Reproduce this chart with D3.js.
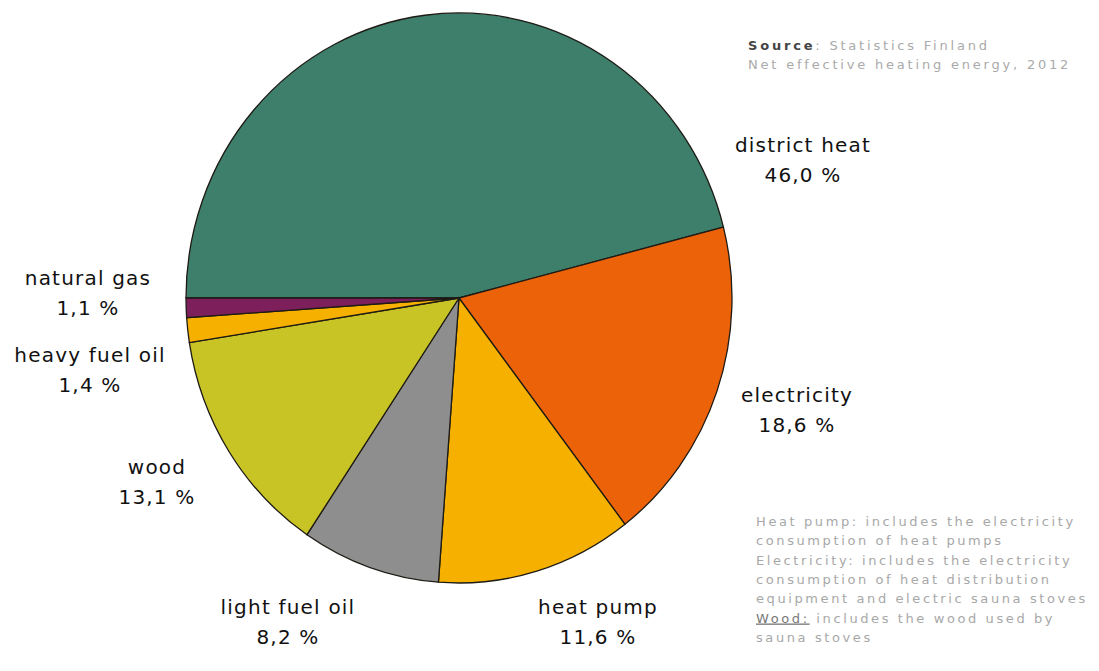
<!DOCTYPE html>
<html>
<head>
<meta charset="utf-8">
<script src="https://cdn.jsdelivr.net/npm/d3@7"></script>
<style>
  body { margin: 0; background: #fff; }
  svg text { font-family: "DejaVu Sans", sans-serif; }
</style>
</head>
<body>
<script>
'use strict';

// fuel categories, clockwise from 9 o'clock
const fuels = ["district heat", "electricity", "heat pump", "light fuel oil", "wood", "heavy fuel oil", "natural gas"];
const shares = [46.0, 18.6, 11.6, 8.2, 13.1, 1.4, 1.1];
const shareLabels = ["46,0 %", "18,6 %", "11,6 %", "8,2 %", "13,1 %", "1,4 %", "1,1 %"];
const fuelColors = ["#3d7f6b", "#ec6209", "#f6b000", "#8e8e8e", "#c8c426", "#f6b000", "#7d1f5b"];

// label anchor points (centre of the two-line label)
const labelPos = [[803, 152], [797, 402], [598, 614], [288, 614], [157, 474], [90, 362], [88, 285]];

const noteLines = [
    "Heat pump: includes the electricity",
    "consumption of heat pumps",
    "Electricity: includes the electricity",
    "consumption of heat distribution",
    "equipment and electric sauna stoves",
    "Wood: includes the wood used by",
    "sauna stoves"
];

const width = 1099, height = 671;
const svg = d3.select('body').append('svg')
    .attr('width', width)
    .attr('height', height);

// pie is slightly stretched vertically in the original
const cx = 459, cy = 298, rx = 273, ry = 285;

const color = d3.scaleOrdinal().domain(fuels).range(fuelColors);

const pie = d3.pie()
    .sort(null)
    .value(d => d.value)
    .startAngle(-Math.PI / 2)
    .endAngle(3 * Math.PI / 2);

const data = fuels.map((f, i) => ({ name: f, value: shares[i], label: shareLabels[i], pos: labelPos[i] }));

const arc = d3.arc().innerRadius(0).outerRadius(ry);

svg.append('g')
    .attr('transform', `translate(${cx},${cy}) scale(${rx / ry},1)`)
    .selectAll('path')
    .data(pie(data))
    .enter()
    .append('path')
    .attr('d', arc)
    .attr('fill', d => color(d.data.name))
    .attr('stroke', '#1e1a14')
    .attr('stroke-width', 1.3)
    .attr('vector-effect', 'non-scaling-stroke');

// slice labels
const labels = svg.append('g')
    .selectAll('text')
    .data(data)
    .enter()
    .append('text')
    .attr('text-anchor', 'middle')
    .style('font-size', '20px')
    .style('letter-spacing', '1.2px')
    .attr('fill', '#111');

labels.append('tspan')
    .attr('x', d => d.pos[0])
    .attr('y', d => d.pos[1])
    .text(d => d.name);
labels.append('tspan')
    .attr('x', d => d.pos[0])
    .attr('y', d => d.pos[1] + 30)
    .text(d => d.label);

// source
const src = svg.append('text')
    .attr('x', 748)
    .attr('y', 50)
    .style('font-size', '13px')
    .style('letter-spacing', '2.8px')
    .attr('fill', '#aaa');
src.append('tspan').attr('font-weight', 'bold').attr('fill', '#444').text('Source');
src.append('tspan').text(': Statistics Finland');
svg.append('text')
    .attr('x', 748)
    .attr('y', 69)
    .style('font-size', '13px')
    .style('letter-spacing', '2.8px')
    .attr('fill', '#aaa')
    .text('Net effective heating energy, 2012');

// notes
const notes = svg.append('g');
noteLines.forEach((line, i) => {
    const t = notes.append('text')
        .attr('x', 756)
        .attr('y', 526 + i * 19.3)
        .style('font-size', '13px')
        .style('letter-spacing', '2.6px')
        .attr('fill', '#a8a8a8');
    if (line.startsWith('Wood:')) {
        t.append('tspan').attr('text-decoration', 'underline').attr('fill', '#777').text('Wood:');
        t.append('tspan').text(line.slice(5));
    } else {
        t.text(line);
    }
});
</script>
</body>
</html>
